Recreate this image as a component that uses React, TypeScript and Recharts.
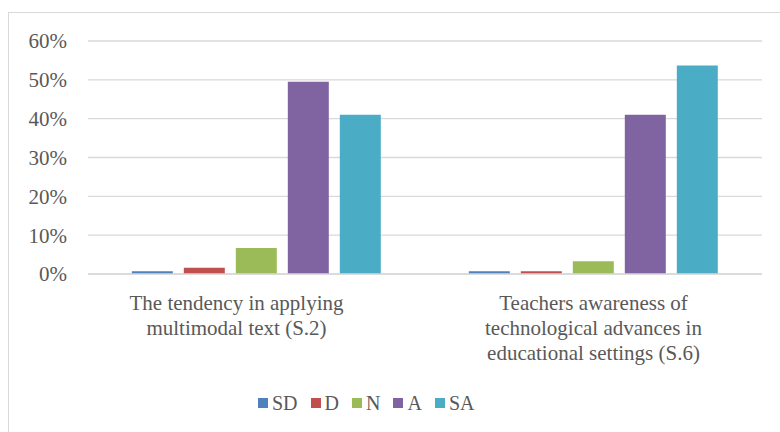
import { BarChart, Bar, XAxis, YAxis, CartesianGrid, Legend } from 'recharts'

const categories = [
  ['The tendency in applying', 'multimodal text (S.2)'],
  ['Teachers awareness of', 'technological advances in', 'educational settings (S.6)'],
]
const seriesNames = ['SD', 'D', 'N', 'A', 'SA']
const sdValues = [0.7, 0.7]
const dValues = [1.6, 0.7]
const nValues = [6.7, 3.3]
const aValues = [49.5, 41.0]
const saValues = [41.0, 53.7]
const yTicks = [0, 10, 20, 30, 40, 50, 60]

const colors = ['#4f81bd', '#c0504d', '#9bbb59', '#8064a2', '#4bacc6']
const FONT = "'Liberation Serif', serif"
const TEXT = '#595959'
// the first label sits a bit left of its category centre in the original
const labelShift = [-20, 0]

const seriesValues = [sdValues, dValues, nValues, aValues, saValues]
const chartData = categories.map((lines, i) => {
  const row: Record<string, any> = { name: lines.join(' ') }
  seriesNames.forEach((s, j) => {
    row[s] = seriesValues[j][i]
  })
  return row
})

function CategoryTick(props: any) {
  const { x, y, payload } = props
  const lines: string[] = categories[payload.index] || [payload.value]
  const cx = x + (labelShift[payload.index] || 0)
  return (
    <text x={cx} y={y} textAnchor='middle' fill={TEXT} fontFamily={FONT} fontSize={21}>
      {lines.map((l, i) => (
        <tspan key={i} x={cx} dy={i === 0 ? 36 : 25}>
          {l}
        </tspan>
      ))}
    </text>
  )
}

function LegendContent() {
  return (
    <div style={{ display: 'flex', alignItems: 'center', height: 26, fontFamily: FONT, fontSize: 20, color: TEXT }}>
      {seriesNames.map((s, i) => (
        <div key={s} style={{ display: 'flex', alignItems: 'center', marginRight: 13 }}>
          <span style={{ width: 10, height: 10, background: colors[i], marginRight: 4, display: 'inline-block' }} />
          <span>{s}</span>
        </div>
      ))}
    </div>
  )
}

export default function App() {
  return (
    <div style={{ position: 'absolute', left: 0, top: 0, width: 780, height: 432, overflow: 'hidden', background: '#fff' }}>
      <div
        style={{
          position: 'absolute',
          left: 8,
          top: 12,
          width: 820,
          height: 480,
          border: '1px solid #d9d9d9',
          boxSizing: 'border-box',
        }}
      />
      <div style={{ position: 'absolute', left: 0, top: 0 }}>
        <BarChart
          width={780}
          height={432}
          data={chartData}
          margin={{ top: 41, right: 18, bottom: 0, left: 0 }}
          barCategoryGap='13%'
          barGap={11}
        >
          <CartesianGrid vertical={false} stroke='#d9d9d9' strokeWidth={1.3} />
          <XAxis
            dataKey='name'
            tick={<CategoryTick />}
            tickLine={false}
            axisLine={{ stroke: '#d9d9d9', strokeWidth: 1.3 }}
            tickSize={0}
            tickMargin={0}
            height={132}
            interval={0}
          />
          <YAxis
            width={88}
            domain={[0, 60]}
            ticks={yTicks}
            tickFormatter={(v) => `${v}%`}
            tickLine={false}
            axisLine={false}
            tickSize={0}
            tickMargin={21}
            tick={{ fill: TEXT, fontFamily: FONT, fontSize: 21 }}
          />
          <Legend content={<LegendContent />} wrapperStyle={{ top: 390, left: 258, width: 'auto' }} />
          {seriesNames.map((s, i) => (
            <Bar key={s} dataKey={s} fill={colors[i]} isAnimationActive={false} />
          ))}
        </BarChart>
      </div>
    </div>
  )
}
